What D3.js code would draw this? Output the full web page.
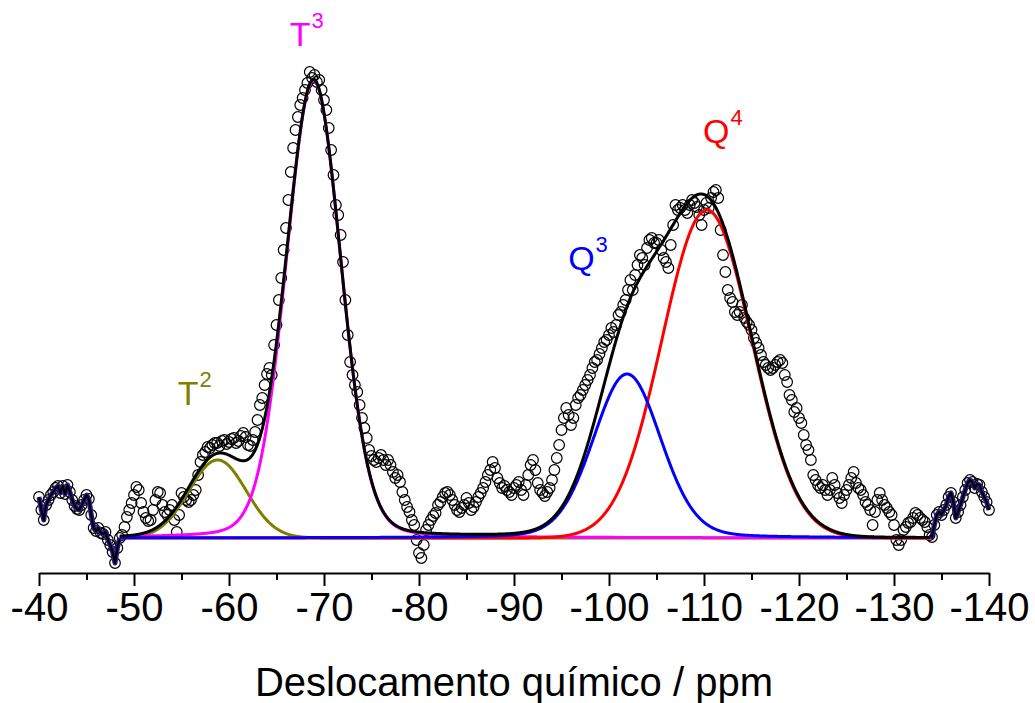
<!DOCTYPE html>
<html lang="en">
  <head>
    <meta charset="utf-8">
    <title>29Si NMR deconvolution</title>
    <script src="https://d3js.org/d3.v7.min.js"></script>
    <style>
      body { margin: 0; background: #fff; }
      text { font-family: "Liberation Sans", Arial, sans-serif; }
    </style>
  </head>

  <body>

  <script>

// experimental spectrum: ppm from -40 to -140 in 0.25 ppm steps (a.u.)
var ppmStart = -40;
var ppmStep = -0.25;
var intensity = [
  8.2, 5.6, 3.6, 6.6,   7.6, 8.6, 9.2, 10,    10.4, 9, 10.4, 8.8,   10.6, 9.2, 7.6, 6.4,
  5.8, 5.6, 6.6, 7.6,   8.6, 7.8, 4.6, 2,     1.4, 2, 1, 0.8,       1.2, -0.4, -1.4, -2.8,
  -5, -2, 0, 0.6,       2.2, 4.2, 5.6, 7,     8.6, 10.2, 9.6, 7,    5.2, 4, 3.4, 3.6,
  5.6, 7.6, 9.2, 9,     6.6, 5.2, 4.6, 5.6,   6.6, 3.6, 1.2, 4.6,   9, 8.2, 7.6, 7.2,
  7.6, 8.6, 9.6, 12.6,  15.2, 16.6, 17.2, 18.2, 18, 18.6, 19, 19, 18.4, 19.4, 19.6, 18.8,
  19.2, 19.8, 20, 19,   19.4, 20.4, 21, 20.2, 18.6, 18.4, 19.6, 21.2, 23.6, 26.6, 28, 30.6,
  32.8, 34, 32.6, 38.6, 42.6, 47.6, 52, 57.6, 62, 67.6, 73.2, 78,  81.6, 84.2, 86.6, 88,
  89.6, 91, 93.2, 92,   92.6, 91.2, 91.6, 89.6, 87.6, 85.6, 82, 77.6, 72.6, 66.6, 64.6, 60.6,
  55.2, 47.6, 40.6, 35.2, 32.6, 30.6, 29.2, 26.6, 24, 22, 20, 17.6, 16.4, 15.6, 15.2, 16,
  16.6, 15.6, 14.6, 15.6, 14.6, 13.2, 12, 12.6, 11.2, 9.2, 7.6, 6.2, 5.2, 3.6, 2.6, -0.4,
  -3, -4, -1.4, 1.6,    2.6, 3.6, 4.4, 5,     6.6, 7.2, 8.2, 9,     9.2, 8.6, 7.6, 6.6,
  5.6, 5.2, 6, 6.6,     8, 7, 5.6, 6.2,       7.2, 8.2, 9, 10,      11.2, 12.6, 13.6, 15.2,
  14, 12, 11, 10,       10.4, 9.6, 9.2, 8.6,  10, 10.6, 11.2, 9.6,  8.6, 10.6, 12.6, 14.6,
  15.6, 13.6, 11, 9.6,  9, 8.4, 9.2, 10,      11.6, 13.6, 16, 18.6, 21.6, 24, 26, 24.6,
  22.6, 24, 26.6, 28,   28.6, 29.6, 30.6, 31.6, 32.6, 34, 35.2, 35.6, 36.8, 38, 39.2, 39.6,
  40.6, 42, 41.2, 42.6, 44.6, 45.2, 46.6, 47.6, 49.6, 51.6, 49.6, 52.6, 54.6, 56.6, 56, 54.6,
  58, 59.6, 60, 59,     59, 59.6, 57.6, 56,   55.2, 54, 58.6, 62.6, 66.6, 65.6, 66, 66.6,
  65.6, 65, 66.6, 67.6, 67, 66.2, 64.6, 62.6, 65.6, 67, 66, 68,    69.2, 69.6, 68, 61.6,
  56.6, 53.2, 49.6, 48, 47.2, 45.2, 44.6, 45.2, 46.6, 44, 43.2, 42.6, 41.6, 40, 39, 38,
  36.6, 35.2, 34.6, 34, 33.6, 34, 34.6, 35.2, 35.6, 35, 32.6, 31.2, 28.6, 27.6, 25.2, 26,
  24, 23, 20.6, 18.6,   17.6, 15.6, 12.6, 11.6, 10.6, 10, 10.6, 9.6, 8.6, 9.6, 12, 10.6,
  9, 8, 7, 8.6,         9.6, 10.6, 12, 13.2,  11, 10, 9.6, 8.6,     7.2, 6.6, 5.6, 2.6,
  5.2, 7.6, 9, 7.6,     6.6, 6, 5.2, 4.6,     2.6, -0.4, -1.4, -0.4, 1.6, 2.2, 3, 3.2,
  4, 5, 4.6, 4,         3.6, 3.2, 2.2, 0.6,   0.2, 2.6, 4.6, 5.2,   4.6, 5.6, 6.6, 8.2,
  9, 7.2, 4, 5.2,       6.6, 8.2, 9.6, 11,    11.6, 11.2, 10, 10.8, 10.6, 9.2, 8.2, 7.2,
  5.6
];

// fitted pseudo-Voigt components (centre ppm, height a.u., FWHM ppm, lorentzian fraction)
var peakNames = ["T2", "T3", "Q3", "Q4"];
var peakCenters = [-58.8, -68.9, -101.9, -110.3];
var peakHeights = [15.6, 91.6, 32.8, 65.6];
var peakFwhm = [7.1, 6.8, 8.4, 11.1];
var peakLorentz = [0, 0.12, 0.15, 0];
var fitRange = [-48.5, -133.75];

var majorTicks = [-40, -50, -60, -70, -80, -90, -100, -110, -120, -130, -140];
var minorTicks = [-45, -55, -65, -75, -85, -95, -105, -115, -125, -135];

var peakColors = {T2: "#808000", T3: "#ff00ff", Q3: "#0000ff", Q4: "#ff0000"};
// label anchor (ppm, intensity) for each component name
var labelAt = {T2: [-54.6, 26.6], T3: [-66.4, 98.4], Q3: [-95.7, 53.6], Q4: [-109.9, 79]};

var w = 1035;
var h = 703;

var svg = d3.select("body")
  .append("svg")
    .attr("width", w)
    .attr("height", h);

var xScale = d3.scaleLinear()
    .domain([-40, -140])
    .range([39, 989]);

var yScale = d3.scaleLinear()
    .domain([0, 100])
    .range([538, 38]);

var axisY = 573;

var points = intensity.map(function(v, i) {
  return {ppm: ppmStart + i * ppmStep, v: v};
});

function peak(p, k) {
  var d2 = Math.pow((p - peakCenters[k]) / peakFwhm[k], 2);
  var g = Math.exp(-4 * Math.LN2 * d2);
  var l = 1 / (1 + 4 * d2);
  return peakHeights[k] * ((1 - peakLorentz[k]) * g + peakLorentz[k] * l);
}

// model evaluation grid inside the fit window
var grid = d3.range(fitRange[0], fitRange[1] - 0.001, -0.05);

var line = d3.line()
    .x(d => xScale(d.ppm))
    .y(d => yScale(d.v));

// data circles
svg.append("g")
  .selectAll("circle")
  .data(points)
  .enter().append("circle")
    .attr("cx", d => xScale(d.ppm))
    .attr("cy", d => yScale(d.v))
    .attr("r", 5.3)
    .attr("fill", "none")
    .attr("stroke", "#000")
    .attr("stroke-width", 1.2);

// outside fit window the curves follow the data
var leftEdge = points.filter(d => d.ppm >= fitRange[0]);
var rightEdge = points.filter(d => d.ppm <= fitRange[1]);
[leftEdge, rightEdge].forEach(function(seg) {
  svg.append("path")
      .attr("d", line(seg))
      .attr("fill", "none")
      .attr("stroke", "#2a1a8a")
      .attr("stroke-width", 5)
      .attr("stroke-linejoin", "round");
  svg.append("path")
      .attr("d", line(seg))
      .attr("fill", "none")
      .attr("stroke", "#000")
      .attr("stroke-width", 2.2)
      .attr("stroke-linejoin", "round");
});

// components
var order = [0, 1, 3, 2];
order.forEach(function(k) {
  var comp = grid.map(p => ({ppm: p, v: peak(p, k)}));
  svg.append("path")
      .attr("d", line(comp))
      .attr("fill", "none")
      .attr("stroke", peakColors[peakNames[k]])
      .attr("stroke-width", 3);
});

// cumulative fit
var total = grid.map(function(p) {
  var s = 0;
  for (var k = 0; k < peakNames.length; k++) s += peak(p, k);
  return {ppm: p, v: s};
});
svg.append("path")
    .attr("d", line(total))
    .attr("fill", "none")
    .attr("stroke", "#000")
    .attr("stroke-width", 3);

// component labels
peakNames.forEach(function(name) {
  var t = svg.append("text")
      .attr("x", xScale(labelAt[name][0]))
      .attr("y", yScale(labelAt[name][1]))
      .attr("fill", peakColors[name])
      .attr("font-size", 34);
  t.append("tspan").text(name.charAt(0));
  t.append("tspan")
      .attr("dy", -18)
      .attr("dx", 1)
      .attr("font-size", 22)
      .text(name.charAt(1));
});

// x axis
var xAxis = d3.axisBottom(xScale)
    .tickValues(majorTicks)
    .tickSize(13)
    .tickSizeOuter(0)
    .tickPadding(7)
    .tickFormat(d => String(d));

var gx = svg.append("g")
    .attr("transform", `translate(0, ${axisY})`)
    .call(xAxis);

gx.select(".domain").attr("stroke-width", 2);
gx.selectAll(".tick line").attr("stroke-width", 2);
gx.selectAll(".tick text")
    .attr("font-size", 40)
    .attr("font-family", "Liberation Sans, Arial, sans-serif")
    .attr("fill", "#000");

var gm = svg.append("g")
    .attr("transform", `translate(0, ${axisY})`)
    .call(d3.axisBottom(xScale).tickValues(minorTicks).tickSize(7).tickFormat(""));
gm.select(".domain").remove();
gm.selectAll(".tick line").attr("stroke-width", 2);

svg.append("text")
    .attr("x", (xScale(-40) + xScale(-140)) / 2)
    .attr("y", 696)
    .attr("text-anchor", "middle")
    .attr("font-size", 40)
    .text("Deslocamento químico / ppm");

  </script>

  </body>

</html>
